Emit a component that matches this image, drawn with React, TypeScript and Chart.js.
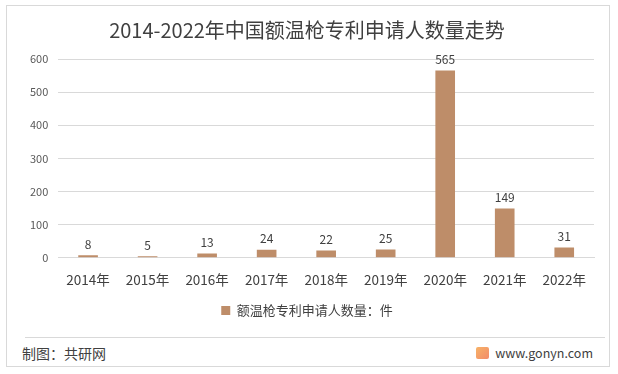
import React, { useEffect, useRef } from "react";
import { Chart, registerables } from "chart.js";

Chart.register(...registerables);

const categories = ["2014年", "2015年", "2016年", "2017年", "2018年", "2019年", "2020年", "2021年", "2022年"];
const seriesName = "额温枪专利申请人数量：件";
const values = [8, 5, 13, 24, 22, 25, 565, 149, 31];
const yTicks = [0, 100, 200, 300, 400, 500, 600];
const titleText = "2014-2022年中国额温枪专利申请人数量走势";

const FONT = "'Noto Sans CJK SC', 'Noto Sans', sans-serif";
const BAR = "#BE8D69";

const valueLabels = {
  id: "valueLabels",
  afterDatasetsDraw(chart: any) {
    const ctx = chart.ctx;
    const meta = chart.getDatasetMeta(0);
    ctx.save();
    ctx.font = `12px ${FONT}`;
    ctx.fillStyle = "#404040";
    ctx.textAlign = "center";
    ctx.textBaseline = "bottom";
    meta.data.forEach((el: any, i: number) => {
      ctx.fillText(String(values[i]), el.x, el.y - 5);
    });
    ctx.restore();
  },
};

export default function App() {
  const ref = useRef<HTMLCanvasElement | null>(null);
  useEffect(() => {
    document.body.style.margin = "0";
    const chart = new Chart(ref.current!, {
      type: "bar",
      data: {
        labels: categories,
        datasets: [
          {
            label: seriesName,
            data: values,
            backgroundColor: BAR,
            borderWidth: 0,
            barPercentage: 0.33,
            categoryPercentage: 1,
          },
        ],
      },
      options: {
        animation: false,
        responsive: false,
        maintainAspectRatio: false,
        layout: { padding: { left: 14, right: 17, top: 0, bottom: 9 } },
        scales: {
          x: {
            grid: { display: false, drawTicks: false },
            border: { color: "#D9D9D9", width: 1 },
            ticks: { color: "#404040", font: { family: FONT, size: 13.5 }, padding: 14, maxRotation: 0 },
          },
          y: {
            min: 0,
            max: 600,
            afterBuildTicks: (axis: any) => {
              axis.ticks = yTicks.map((v) => ({ value: v }));
            },
            grid: { color: "#D9D9D9", drawTicks: false },
            border: { display: false },
            ticks: { color: "#595959", font: { family: FONT, size: 11 }, padding: 10 },
          },
        },
        plugins: {
          title: {
            display: true,
            text: titleText,
            color: "#404040",
            font: { family: FONT, size: 20, weight: "normal" },
            padding: { top: 12, bottom: 17 },
          },
          legend: {
            display: true,
            position: "bottom",
            labels: {
              color: "#404040",
              font: { family: FONT, size: 13 },
              boxWidth: 9,
              boxHeight: 9,
              padding: 2,
            },
          },
          tooltip: { enabled: false },
        },
      },
      plugins: [valueLabels],
    });
    return () => chart.destroy();
  }, []);

  return (
    <div style={{ position: "absolute", left: 0, top: 0, width: 618, height: 374, background: "#fff" }}>
      <div
        style={{
          position: "absolute",
          left: 6,
          top: 5,
          width: 604,
          height: 362,
          border: "1px solid #D9D9D9",
          boxSizing: "border-box",
        }}
      />
      <canvas ref={ref} width={605} height={330} style={{ position: "absolute", left: 6, top: 6, width: 605, height: 330 }} />
      <div style={{ position: "absolute", left: 25, top: 337, width: 580, height: 1, background: "#D9D9D9" }} />
      <div style={{ position: "absolute", left: 22, top: 343, fontFamily: FONT, fontSize: 14, color: "#404040", lineHeight: "20px" }}>
        制图：共研网
      </div>
      <div
        style={{
          position: "absolute",
          right: 25,
          top: 343,
          fontFamily: FONT,
          fontSize: 12.5,
          color: "#404040",
          lineHeight: "20px",
          display: "flex",
          alignItems: "center",
        }}
      >
        <span
          style={{
            display: "inline-block",
            width: 13,
            height: 12,
            marginRight: 6,
            background: "linear-gradient(135deg, #F7B267, #F28C6A)",
            borderRadius: 2,
          }}
        />
        www.gonyn.com
      </div>
    </div>
  );
}
